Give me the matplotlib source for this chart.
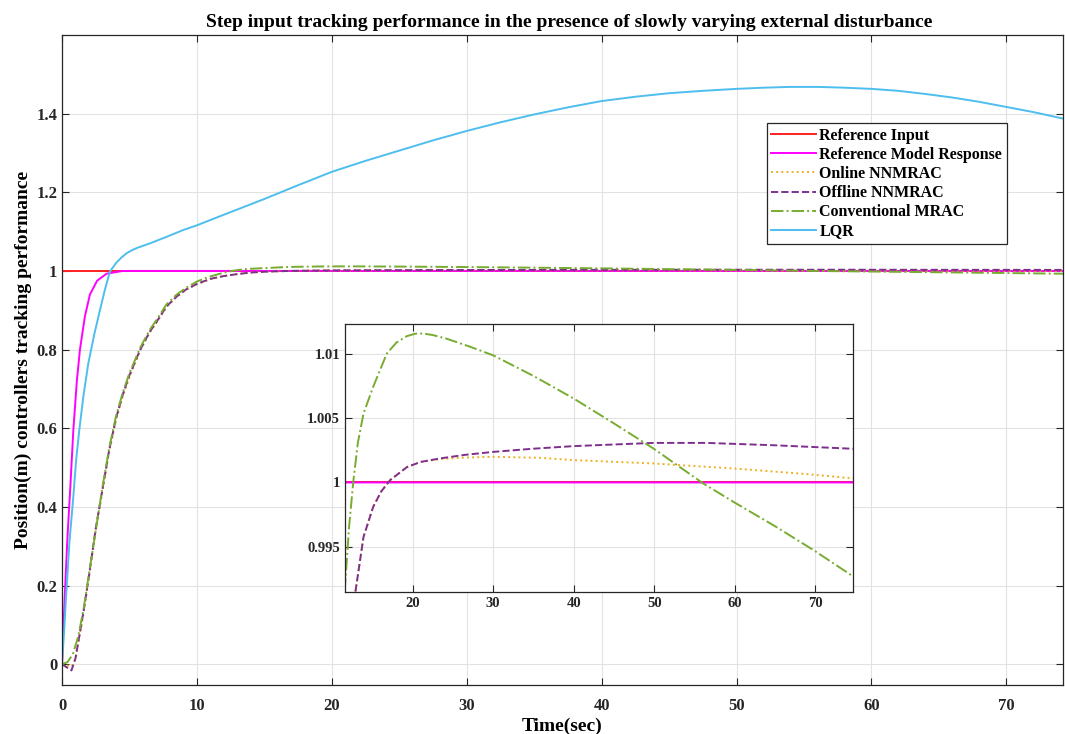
import matplotlib
matplotlib.use('Agg')
import matplotlib.pyplot as plt

plt.rcParams['font.family'] = ['Liberation Serif', 'DejaVu Serif']
plt.rcParams['font.weight'] = 'bold'
plt.rcParams['axes.titleweight'] = 'bold'
plt.rcParams['axes.labelweight'] = 'bold'

# reference step input
t_input = [0, 0, 74.8]
y_input = [0, 1, 1]

# reference model response
t_model = [0, 0.2, 0.4, 0.6, 0.84, 1.1, 1.33, 1.7, 2.07, 2.6, 3.3, 4.5, 74.8]
y_model = [0, 0.17, 0.32, 0.44, 0.595, 0.72, 0.80, 0.885, 0.94, 0.975, 0.993, 1.0, 1.0]

# online NNMRAC
t_online = [0, 0.35, 0.7, 1.0, 1.3, 1.6, 2.0, 2.5, 3.0, 3.5, 4.0, 4.5, 5.0, 5.8, 6.5,
            7.0, 7.75, 8.5, 9.2, 10.0, 11.0, 12.0, 12.85, 13.9, 15.1, 16.1, 17.2,
            19.3, 21.0, 23.4, 26.5, 30.0, 35.8, 40.0, 49.9, 59.85, 69.0, 74.8]
y_online = [0, -0.003, -0.006, 0.012, 0.07, 0.13, 0.22, 0.34, 0.44, 0.54, 0.62, 0.68,
            0.73, 0.797, 0.843, 0.868, 0.908, 0.934, 0.952, 0.966, 0.979, 0.987,
            0.9913, 0.99576, 0.9981, 0.9993, 1.00018, 1.0012, 1.0016, 1.00182,
            1.00194, 1.0020, 1.00192, 1.00174, 1.00148, 1.00109, 1.00065, 1.00031]

# offline NNMRAC
t_offline = [0, 0.35, 0.7, 1.0, 1.3, 1.6, 2.0, 2.5, 3.0, 3.5, 4.0, 4.5, 5.0, 5.8, 6.5,
             7.0, 7.75, 8.5, 9.2, 10.0, 11.0, 12.0, 12.85, 13.9, 15.1, 16.1, 17.2,
             19.3, 21.0, 23.4, 26.5, 30.0, 35.0, 40.0, 49.9, 56.5, 64.8, 74.8]
y_offline = [0, -0.008, -0.016, 0.015, 0.075, 0.135, 0.225, 0.345, 0.445, 0.545, 0.625,
             0.685, 0.735, 0.80, 0.845, 0.87, 0.91, 0.935, 0.953, 0.967, 0.98, 0.987,
             0.9913, 0.99576, 0.9981, 0.9993, 1.00018, 1.0012, 1.0016, 1.00187,
             1.00215, 1.00238, 1.00263, 1.00283, 1.00308, 1.00308, 1.0029, 1.00262]

# conventional MRAC
t_conv = [0, 0.4, 0.8, 1.2, 1.6, 2.0, 2.5, 3.0, 3.5, 4.0, 4.5, 5.0, 5.8, 6.5, 7.0, 7.75,
          8.5, 9.2, 10.0, 10.8, 11.6, 12.1, 12.65, 13.2, 13.9, 15.1, 16.8, 18.0, 19.3,
          20.3, 21.3, 22.5, 24.2, 27.0, 30.0, 35.0, 40.0, 45.0, 49.9, 56.1, 59.85,
          65.0, 69.8, 74.8]
y_conv = [0, 0.005, 0.025, 0.07, 0.14, 0.23, 0.34, 0.45, 0.55, 0.63, 0.69, 0.74, 0.805,
          0.85, 0.875, 0.915, 0.94, 0.957, 0.973, 0.984, 0.99187, 0.9965, 1.00018,
          1.0031, 1.00537, 1.00745, 1.01005, 1.0109, 1.0114, 1.01158, 1.0116, 1.01148,
          1.0112, 1.0106, 1.0099, 1.0083, 1.00654, 1.0046, 1.00265, 0.99992, 0.99849,
          0.9966, 0.99473, 0.99265]

# LQR
t_lqr = [0, 0.15, 0.3, 0.55, 0.84, 1.05, 1.28, 1.6, 1.95, 2.4, 2.81, 3.2, 3.55, 4.0,
         4.4, 4.79, 5.2, 5.6, 6.51, 7.7, 8.98, 10, 12, 15, 17.5, 20, 22.5, 25, 27.5, 30,
         32.5, 35, 37.5, 40, 42.5, 45, 47.5, 50, 52, 54, 56, 58, 60, 62, 64, 66, 68,
         70, 72, 74.8]
y_lqr = [0, 0.08, 0.171, 0.31, 0.426, 0.52, 0.595, 0.685, 0.765, 0.84, 0.90, 0.955,
         0.998, 1.02, 1.034, 1.045, 1.053, 1.059, 1.07, 1.086, 1.104, 1.116, 1.143,
         1.183, 1.218, 1.252, 1.280, 1.306, 1.332, 1.356, 1.378, 1.398, 1.416, 1.432,
         1.443, 1.452, 1.458, 1.463, 1.466, 1.468, 1.468, 1.466, 1.463, 1.458, 1.450,
         1.441, 1.430, 1.417, 1.404, 1.383]

labels = ['Reference Input', 'Reference Model Response', 'Online NNMRAC',
          'Offline NNMRAC', 'Conventional MRAC', 'LQR']

series = [
    (t_input, y_input, '#FF2020', '-'),
    (t_model, y_model, '#FF00FF', '-'),
    (t_online, y_online, '#EDB120', ':'),
    (t_offline, y_offline, '#7E2F8E', '--'),
    (t_conv, y_conv, '#77AC30', '-.'),
    (t_lqr, y_lqr, '#4DBEEE', '-'),
]


def style_axes(ax, size):
    ax.grid(True, color='#e2e2e2', linewidth=0.8)
    ax.set_axisbelow(True)
    ax.tick_params(direction='in', top=True, right=True, length=5, width=0.8,
                   labelsize=size, colors='#262626')
    for s in ax.spines.values():
        s.set_color('#262626')
        s.set_linewidth(0.9)


fig = plt.figure(figsize=(10.65, 7.34), dpi=100)
ax = fig.add_axes([62 / 1065, 1 - 685 / 734, 1001 / 1065, 650 / 734])

for (t, y, c, ls), lab in zip(series, labels):
    ax.plot(t, y, color=c, linestyle=ls, linewidth=1.4, label=lab)

ax.set_xlim(0, 74.2)
ax.set_ylim(-0.053, 1.6)
ax.set_xticks(range(0, 71, 10))
ax.set_yticks([0, 0.2, 0.4, 0.6, 0.8, 1.0, 1.2, 1.4])
ax.set_yticklabels(['0', '0.2', '0.4', '0.6', '0.8', '1', '1.2', '1.4'])
style_axes(ax, 12)
ax.tick_params(axis='x', pad=9)
ax.set_title('Step input tracking performance in the presence of slowly varying external disturbance',
             fontsize=14, pad=6, x=0.507)
ax.set_xlabel('Time(sec)', fontsize=14, labelpad=3)
ax.set_ylabel('Position(m) controllers tracking performance', fontsize=14, labelpad=3)

leg = ax.legend(loc='upper right', bbox_to_anchor=(0.944, 0.865), fontsize=11.5,
                fancybox=False, framealpha=1, edgecolor='#262626', handlelength=2.8,
                handletextpad=0.2, labelspacing=0.2, borderpad=0.3, borderaxespad=0)
leg.get_frame().set_linewidth(0.9)

ins = fig.add_axes([345 / 1065, 1 - 592 / 734, 508 / 1065, 268 / 734])
for t, y, c, ls in series[:5]:
    ins.plot(t, y, color=c, linestyle=ls, linewidth=1.4)
ins.set_xlim(11.6, 74.7)
ins.set_ylim(0.99147, 1.01234)
ins.set_xticks(range(20, 71, 10))
ins.set_yticks([0.995, 1.0, 1.005, 1.01])
ins.set_yticklabels(['0.995', '1', '1.005', '1.01'])
style_axes(ins, 10.5)

fig.savefig('out.png', dpi=100)
